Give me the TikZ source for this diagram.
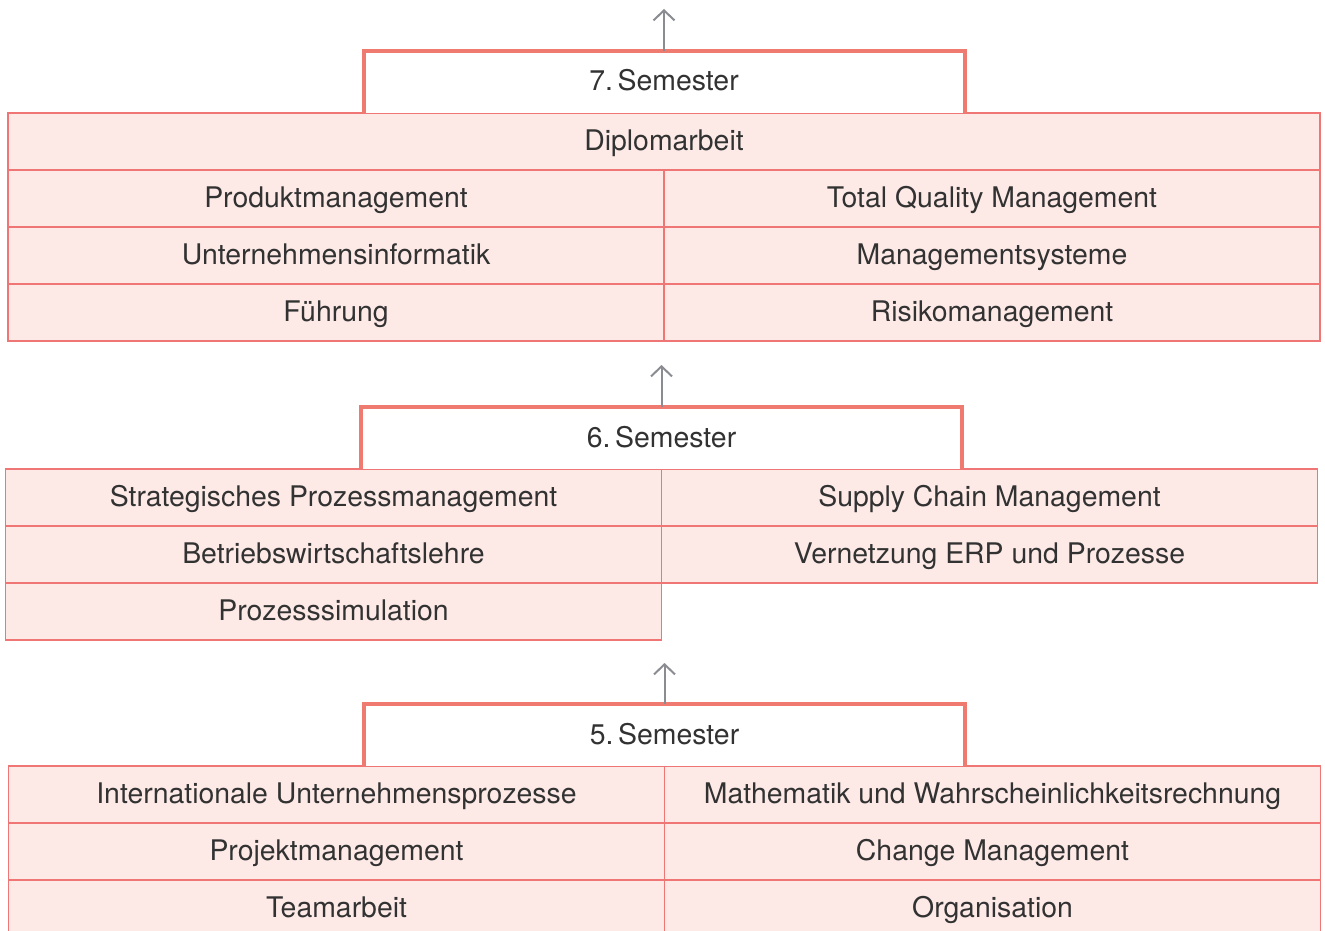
\documentclass[tikz,border=0pt]{standalone}
\usepackage{fontspec}
\setmainfont{TeX Gyre Heros}
\usetikzlibrary{arrows.meta,positioning}
\definecolor{hdline}{RGB}{238,122,112}
\definecolor{cline}{RGB}{240,118,118}
\definecolor{cfill}{RGB}{253,234,231}
\definecolor{arrgray}{RGB}{138,140,145}
\definecolor{txt}{RGB}{50,50,50}
\tikzset{
    cell/.style =   {rectangle,
                    fill=cfill,
                    draw=cline,
                    text=txt,
                    line width=0.6pt,
                    inner sep=0pt,
                    outer sep=0pt,
                    text height=10.5pt,
                    text depth=1.5pt,
                    minimum width=328pt,
                    minimum height=28.5pt,
                    font=\fontsize{14.2}{17}\selectfont},
    wide/.style =   {cell,
                    minimum width=656pt},
    semhead/.style ={rectangle,
                    fill=white,
                    text=txt,
                    inner sep=0pt,
                    outer sep=0pt,
                    text height=10.5pt,
                    text depth=1.5pt,
                    minimum width=300.5pt,
                    minimum height=31pt,
                    font=\fontsize{14.2}{17}\selectfont},
    hdframe/.style ={draw=hdline,
                    line width=2pt},
    up/.style =     {draw=arrgray,
                    line width=1pt,
                    -{Straight Barb[length=5pt,width=10.5pt]}},
    x=0.5pt, y=-0.5pt}

\begin{document}
\begin{tikzpicture}[node distance=0pt]
    \useasboundingbox (0,0) rectangle (1325,930);
    % 7. Semester
    \node[wide]     (dipl) at (664,141.5)                       {Diplomarbeit};
    \node[cell]     (prod) [below right=0pt of dipl.south west] {Produktmanagement};
    \node[cell]     (uinf) [below=of prod]                      {Unternehmensinformatik};
    \node[cell]     (fuhr) [below=of uinf]                      {Führung};
    \node[cell]     (tqm)  [right=of prod]                      {Total Quality Management};
    \node[cell]     (msys) [right=of uinf]                      {Managementsysteme};
    \node[cell]     (risk) [right=of fuhr]                      {Risikomanagement};
    \node[semhead]  (h7)   [above=of dipl]                      {7.\,Semester};
    \coordinate[above=21pt of h7] (t7);

    % 6. Semester
    \node[cell]     (strat) at (333.5,497.5)                    {Strategisches Prozessmanagement};
    \node[cell]     (bwl)  [below=of strat]                     {Betriebswirtschaftslehre};
    \node[cell]     (psim) [below=of bwl]                       {Prozesssimulation};
    \node[cell]     (scm)  [right=of strat]                     {Supply Chain Management};
    \node[cell]     (erp)  [right=of bwl]                       {Vernetzung ERP und Prozesse};
    \node[semhead]  (h6)   [above=of strat.north east]          {6.\,Semester};
    \coordinate[above=21pt of h6] (t6);

    % 5. Semester
    \node[cell]     (intl) at (336.5,794.5)                     {Internationale Unternehmensprozesse};
    \node[cell]     (proj) [below=of intl]                      {Projektmanagement};
    \node[cell]     (team) [below=of proj]                      {Teamarbeit};
    \node[cell]     (math) [right=of intl]                      {Mathematik und Wahrscheinlichkeitsrechnung};
    \node[cell]     (chng) [right=of proj]                      {Change Management};
    \node[cell]     (orga) [right=of team]                      {Organisation};
    \node[semhead]  (h5)   [above=of intl.north east]           {5.\,Semester};
    \coordinate[above=20.5pt of h5] (t5);

    % frames and arrows
    \foreach \h in {h7,h6,h5} {
        \draw[hdframe] (\h.south west) |- (\h.north) -| (\h.south east);
    }
    \draw[up] (h7.north) -- (t7);
    \draw[up] (h6.north) -- (t6);
    \draw[up] (h5.north) -- (t5);
\end{tikzpicture}
\end{document}
